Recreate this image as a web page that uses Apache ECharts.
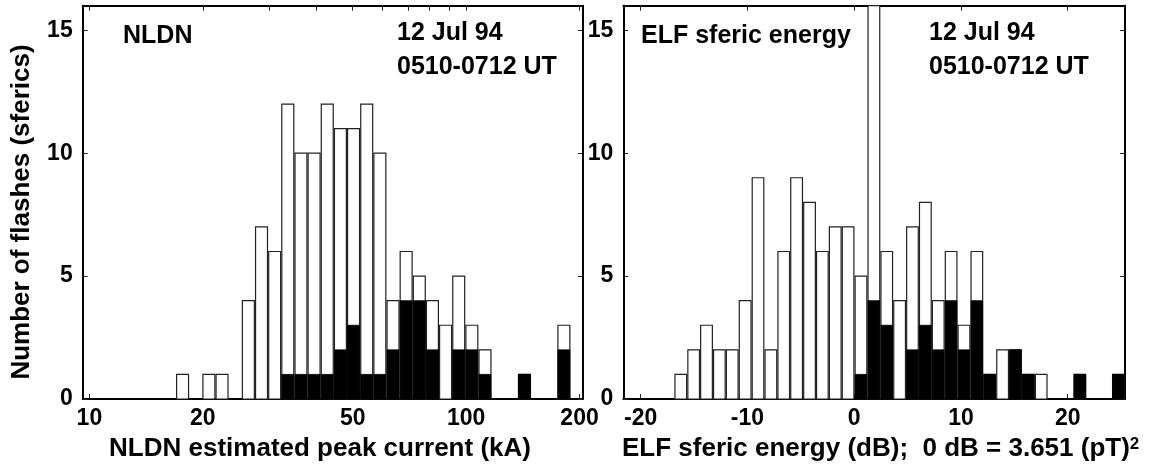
<!DOCTYPE html>
<html>
<head>
<meta charset="utf-8">
<script src="https://cdn.jsdelivr.net/npm/echarts@6/dist/echarts.min.js"></script>
<style>
  html, body { margin: 0; padding: 0; background: #fff; }
  #chart { width: 1155px; height: 468px; }
</style>
</head>
<body>
<div id="chart"></div>
<script>
// NLDN peak current histogram: bin edges (kA), all flashes, and flashes with a sferic (black)
const nldnEdges = [16.98, 18.40, 19.94, 21.61, 23.42, 25.38, 27.51, 29.81, 32.30, 35.01, 37.93,
  41.11, 44.55, 48.28, 52.32, 56.70, 61.44, 66.58, 72.15, 78.19, 84.72, 91.82, 99.49, 107.8,
  116.8, 126.6, 137.2, 148.7, 161.1, 174.6, 189.2];
const nldnAll = [1, 0, 1, 1, 0, 4, 7, 6, 12, 10, 10, 12, 11, 11, 12, 10, 4, 6, 5, 4, 3, 5, 3, 2, 0, 0, 1, 0, 0, 3];
const nldnBlack = [0, 0, 0, 0, 0, 0, 0, 0, 1, 1, 1, 1, 2, 3, 1, 1, 2, 4, 4, 2, 0, 2, 2, 1, 0, 0, 1, 0, 0, 2];

// ELF sferic energy histogram: bin edges (dB), all sferics, and the black subset
const elfEdges = [-16.85, -15.64, -14.44, -13.23, -12.03, -10.82, -9.61, -8.41, -7.20, -6.00,
  -4.79, -3.58, -2.38, -1.17, 0.03, 1.24, 2.45, 3.65, 4.86, 6.06, 7.27, 8.48, 9.68, 10.89,
  12.09, 13.30, 14.51, 15.71, 16.92, 18.12, 19.33, 20.54, 21.74, 22.95, 24.15, 25.36];
const elfAll = [1, 2, 3, 2, 2, 4, 9, 2, 6, 9, 8, 6, 7, 7, 5, 17, 6, 4, 7, 8, 4, 6, 3, 6, 1, 2, 2, 1, 1, 0, 0, 1, 0, 0, 1];
const elfBlack = [0, 0, 0, 0, 0, 0, 0, 0, 0, 0, 0, 0, 0, 0, 1, 4, 3, 0, 2, 3, 2, 4, 2, 4, 1, 0, 2, 1, 0, 0, 0, 1, 0, 0, 1];

// axes
const nldnRange = [9.6, 203.9];
const nldnTicks = [10, 20, 30, 40, 50, 60, 70, 80, 90, 100, 200];
const nldnLabels = [10, 20, 50, 100, 200];
const elfRange = [-21.63, 25.37];
const elfTicks = [-20, -10, 0, 10, 20];
const countMax = 16;
const countTicks = [0, 5, 10, 15];

const FONT = '"Liberation Sans", Arial, Helvetica, sans-serif';

const chart = echarts.init(document.getElementById('chart'));

function bins(edges, all, black, tf) {
  return all.map((v, i) => [tf(edges[i]), tf(edges[i + 1]), v, black[i]]);
}

function renderBar(params, api) {
  const all = api.value(2), blk = api.value(3);
  if (!all) return null;
  const a = api.coord([api.value(0), 0]);
  const b = api.coord([api.value(1), all]);
  const x = a[0] + 0.6, w = b[0] - a[0] - 1.2;
  const children = [];
  const outer = echarts.graphic.clipRectByRect(
    { x: x, y: b[1], width: w, height: a[1] - b[1] }, params.coordSys);
  if (outer) {
    children.push({ type: 'rect', shape: outer, style: { fill: '#fff', stroke: '#222', lineWidth: 1.2 } });
  }
  if (blk > 0) {
    const c = api.coord([api.value(1), blk]);
    children.push({ type: 'rect', shape: { x: x, y: c[1], width: w, height: a[1] - c[1] },
      style: { fill: '#000', stroke: '#000', lineWidth: 0.8 } });
  }
  return { type: 'group', children: children };
}

const labelFont = { fontFamily: FONT, fontWeight: 'bold', fontSize: 23, color: '#000' };
const line = { show: true, onZero: false, lineStyle: { color: '#000', width: 2 } };

function xAxis(grid, pos, range, ticks, labels, fmt) {
  return {
    type: 'value', gridIndex: grid, position: pos, min: range[0], max: range[1],
    axisLine: line,
    axisTick: { show: true, inside: true, length: 5, customValues: ticks, lineStyle: { color: '#222', width: 1 } },
    axisLabel: labels ? Object.assign({ show: true, customValues: labels, formatter: fmt, margin: 8 }, labelFont) : { show: false },
    splitLine: { show: false }
  };
}

function yAxis(grid, pos, labels) {
  return {
    type: 'value', gridIndex: grid, position: pos, min: 0, max: countMax,
    axisLine: line,
    axisTick: { show: true, inside: true, length: 5, customValues: countTicks, lineStyle: { color: '#222', width: 1 } },
    axisLabel: labels ? Object.assign({ show: true, customValues: countTicks, margin: 10 }, labelFont) : { show: false },
    splitLine: { show: false }
  };
}

const lg = Math.log10;
const fmtLog = v => String(Math.round(Math.pow(10, v)));
const fmtLin = v => String(Math.round(v));

function txt(text, x, y, size, extra) {
  return Object.assign({
    type: 'text', x: x, y: y, z: 10,
    style: { text: text, font: 'bold ' + size + 'px ' + FONT, fill: '#000',
      align: 'left', verticalAlign: 'middle', textAlign: 'left', textVerticalAlign: 'middle' }
  }, extra || {});
}

const option = {
  animation: false,
  backgroundColor: '#fff',
  grid: [
    { left: 82.7, right: 572.3, top: 5.7, bottom: 69 },
    { left: 623.3, right: 30, top: 5.7, bottom: 69 }
  ],
  xAxis: [
    xAxis(0, 'bottom', nldnRange.map(lg), nldnTicks.map(lg), nldnLabels.map(lg), fmtLog),
    xAxis(0, 'top', nldnRange.map(lg), nldnTicks.map(lg), null),
    xAxis(1, 'bottom', elfRange, elfTicks, elfTicks, fmtLin),
    xAxis(1, 'top', elfRange, elfTicks, null)
  ],
  yAxis: [
    yAxis(0, 'left', true),
    yAxis(0, 'right', false),
    yAxis(1, 'left', true),
    yAxis(1, 'right', false)
  ],
  series: [
    { type: 'custom', xAxisIndex: 0, yAxisIndex: 0, renderItem: renderBar,
      encode: { x: [0, 1], y: [2, 3] }, data: bins(nldnEdges, nldnAll, nldnBlack, lg) },
    { type: 'custom', xAxisIndex: 2, yAxisIndex: 2, renderItem: renderBar,
      encode: { x: [0, 1], y: [2, 3] }, data: bins(elfEdges, elfAll, elfBlack, v => v) }
  ],
  graphic: [
    txt('NLDN', 123, 36, 25),
    txt('12 Jul 94', 397, 33, 25),
    txt('0510-0712 UT', 397, 67, 25),
    txt('ELF sferic energy', 641, 36, 25),
    txt('12 Jul 94', 929, 33, 25),
    txt('0510-0712 UT', 929, 67, 25),
    txt('Number of flashes (sferics)', 22, 212, 26, { rotation: Math.PI / 2,
      style: { text: 'Number of flashes (sferics)', font: 'bold 26px ' + FONT, fill: '#000',
        align: 'center', verticalAlign: 'middle', textAlign: 'center', textVerticalAlign: 'middle' } }),
    txt('NLDN estimated peak current (kA)', 320, 449, 26, {
      style: { text: 'NLDN estimated peak current (kA)', font: 'bold 26px ' + FONT, fill: '#000',
        align: 'center', verticalAlign: 'middle', textAlign: 'center', textVerticalAlign: 'middle' } }),
    {
      type: 'text', x: 622, y: 449, z: 10,
      style: {
        text: 'ELF sferic energy (dB);  0 dB = 3.651 (pT){sup|2}',
        font: 'bold 26px ' + FONT, fill: '#000',
        align: 'left', verticalAlign: 'middle', textAlign: 'left', textVerticalAlign: 'middle',
        rich: { sup: { fontFamily: FONT, fontWeight: 'bold', fontSize: 17, fill: '#000', verticalAlign: 'top' } }
      }
    }
  ]
};

chart.setOption(option);
</script>
</body>
</html>
